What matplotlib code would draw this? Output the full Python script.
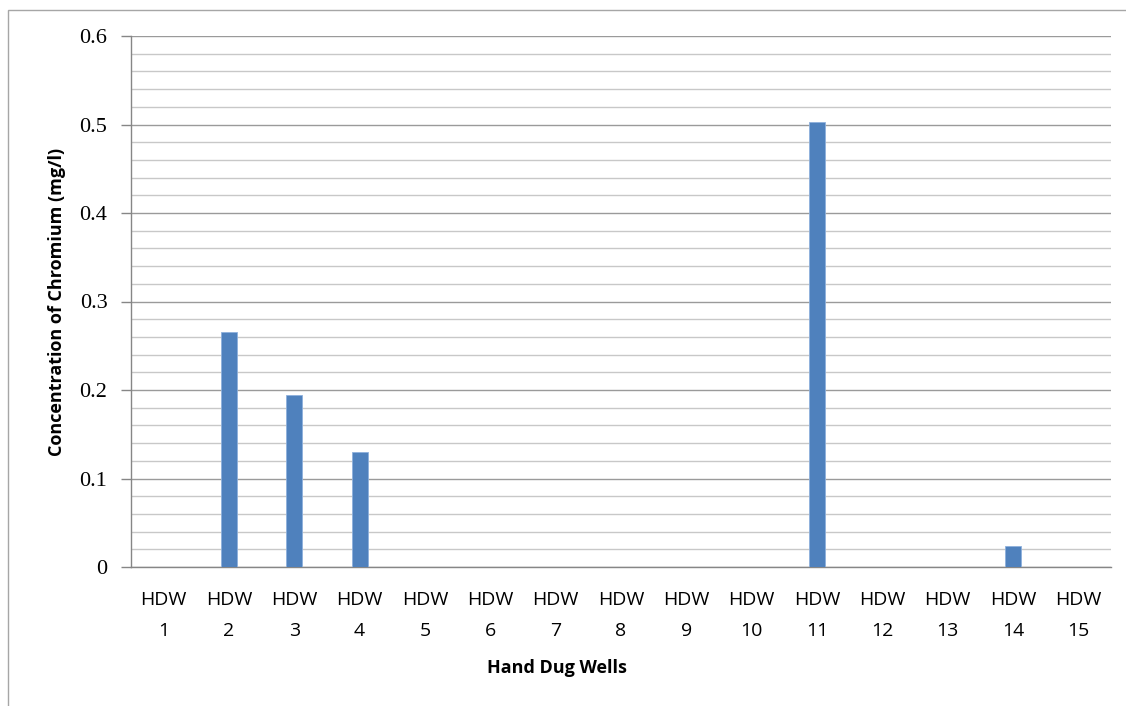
"""
plot.py — Chromium concentration in hand dug wells (Excel-style bar chart).
"""

import numpy as np
import matplotlib
matplotlib.use('Agg')
import matplotlib.pyplot as plt
from matplotlib.patches import Rectangle

# ── Data ──────────────────────────────────────────────────────────────────────

wells = [f'HDW\n{i}' for i in range(1, 16)]
chromium = [0.0, 0.266, 0.194, 0.130, 0.0, 0.0, 0.0, 0.0, 0.0, 0.0,
            0.503, 0.0, 0.0, 0.024, 0.0]

y_major = [0, 0.1, 0.2, 0.3, 0.4, 0.5, 0.6]
y_major_labels = ['0', '0.1', '0.2', '0.3', '0.4', '0.5', '0.6']

BAR = '#4F81BD'
SANS = ['Open Sans', 'DejaVu Sans']
SERIF = ['Liberation Serif', 'DejaVu Serif']

# ── Figure ────────────────────────────────────────────────────────────────────

W, H = 1126, 706
fig = plt.figure(figsize=(W / 100, H / 100), dpi=100)

# outer chart-area frame, cut off at the right and bottom like the source
fig.patches.append(Rectangle((8 / W, -0.05), 1.2, 1 - 10 / H + 0.05,
                             transform=fig.transFigure, fill=False,
                             edgecolor='#A6A6A6', linewidth=1.0))

ax = fig.add_axes([131 / W, (H - 567) / H, (1111 - 131) / W, (567 - 36) / H])

x = np.arange(len(wells))
ax.bar(x, chromium, width=0.25, color=BAR, edgecolor='#8DB0DC',
       linewidth=0.6, zorder=3)

ax.set_xlim(-0.5, len(wells) - 0.5)
ax.set_ylim(0, 0.6)

# gridlines: majors every 0.1, minors every 0.02
ax.set_yticks(y_major)
ax.set_yticklabels(y_major_labels, family=SERIF, fontsize=16)
ax.set_yticks(np.arange(0, 0.6001, 0.02), minor=True)
ax.grid(axis='y', which='major', color='#9A9A9A', linewidth=1.0, zorder=0)
ax.grid(axis='y', which='minor', color='#C8C8C8', linewidth=1.0, zorder=0)
ax.tick_params(axis='y', which='major', direction='out', length=7,
               width=1, color='#868686', pad=10)
ax.tick_params(axis='y', which='minor', length=0)

ax.set_xticks(x)
ax.set_xticklabels(wells, family=SANS, fontsize=14, linespacing=1.95)
ax.tick_params(axis='x', length=0, pad=17)

for side in ('top', 'right'):
    ax.spines[side].set_visible(False)
for side in ('left', 'bottom'):
    ax.spines[side].set_color('#868686')
    ax.spines[side].set_linewidth(1.0)

ax.set_xlabel('Hand Dug Wells', family=SANS, fontsize=13, fontweight='bold')
ax.xaxis.set_label_coords((557 - 131) / 980, -(668 - 567) / 531, transform=ax.transAxes)
ax.xaxis.label.set_va('center')
ax.set_ylabel('Concentration of Chromium (mg/l)', family=SANS, fontsize=13,
              fontweight='bold')
ax.yaxis.set_label_coords(-(131 - 57) / 980, 0.5, transform=ax.transAxes)
ax.yaxis.label.set_va('center')

fig.savefig('out.png', dpi=100)
